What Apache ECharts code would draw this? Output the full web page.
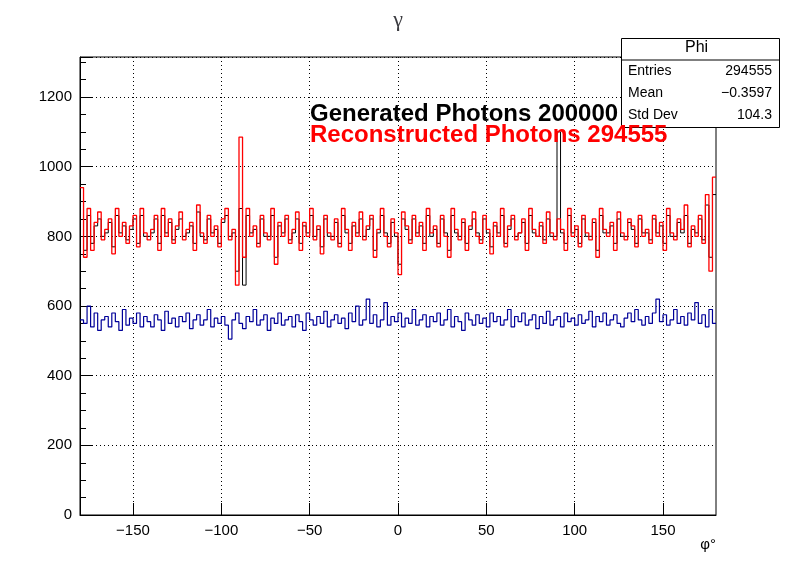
<!DOCTYPE html>
<html><head><meta charset="utf-8">
<script src="https://cdn.jsdelivr.net/npm/echarts@6/dist/echarts.min.js"></script>
<style>body{margin:0;background:#fff}#c{width:796px;height:572px}</style>
</head><body><div id="c"></div>
<script>
// 2 degree bins from -180 to 180
var binLow = -180, binWidth = 2;
var xTicks = [-150, -100, -50, 0, 50, 100, 150];
var reco = [
940,740,880,760,840,870,790,820,850,750,880,800,840,780,830,860,770,880,810,790,
820,860,760,880,800,850,780,830,870,790,820,840,760,890,810,780,860,800,830,770,
850,880,790,820,660,1085,740,880,800,830,770,860,810,790,880,720,840,800,860,780,
820,870,760,840,800,880,790,830,750,860,810,790,850,770,880,820,760,840,800,870,
790,830,860,740,820,880,800,770,850,810,690,870,830,780,860,800,840,760,880,810,
830,770,860,800,740,880,820,790,850,760,830,870,800,780,860,820,750,840,800,880,
770,830,860,790,810,850,760,880,820,800,840,780,870,810,790,850,820,760,880,800,
830,770,860,810,790,850,740,880,820,800,840,760,870,810,790,850,830,770,860,800,
820,780,860,800,840,760,880,810,790,850,820,890,770,830,800,860,780,920,700,970
];
var gen = [
900,760,860,780,830,850,800,810,840,770,860,810,830,790,820,850,780,860,800,800,
810,850,780,860,810,840,790,820,850,800,810,830,780,870,800,790,850,810,820,780,
840,860,800,810,700,880,660,860,810,820,780,850,800,800,860,740,830,810,850,790,
810,850,780,830,810,860,800,820,770,850,800,800,840,780,860,810,780,830,810,850,
800,820,850,760,810,860,810,780,840,800,720,850,820,790,850,810,830,780,860,800,
820,780,850,810,760,860,810,800,840,780,820,850,810,790,850,810,770,830,810,860,
780,820,850,800,810,840,780,860,810,800,830,790,850,800,800,1100,810,780,860,810,
820,780,850,800,800,840,760,860,810,810,830,780,850,800,800,840,820,780,850,810,
810,790,850,810,830,780,860,800,800,840,810,860,780,820,810,850,790,890,740,920
];
var phot = [
560,550,600,540,580,530,560,570,540,580,555,530,590,545,565,550,580,540,570,555,
540,575,560,530,585,550,565,540,570,555,580,535,560,575,545,560,590,540,565,550,
570,545,505,560,580,550,535,570,555,590,545,560,575,530,565,550,580,545,560,570,
540,575,555,530,580,560,545,570,550,585,540,560,575,550,565,535,580,555,600,545,
560,620,550,575,540,560,610,545,570,555,580,540,565,550,590,545,560,575,540,570,
555,580,545,560,590,540,570,555,530,580,560,545,575,550,565,540,580,555,570,545,
560,590,540,570,555,580,545,560,575,535,570,550,585,545,560,570,540,580,555,565,
545,575,550,560,585,540,570,555,580,545,560,575,550,540,565,580,555,590,560,545,
570,550,580,620,555,575,545,560,590,550,570,545,580,560,610,550,575,540,590,550
];

function toSteps(arr) {
    var out = [];
    for (var i = 0; i < arr.length; i++) {
        out.push([binLow + i * binWidth, arr[i]]);
        out.push([binLow + (i + 1) * binWidth, arr[i]]);
    }
    return out;
}
function minus(v) { return v < 0 ? '\u2212' + (-v) : String(v); }

var chart = echarts.init(document.getElementById('c'));
var dotted = {show: true, lineStyle: {color: '#000', type: [1, 3], width: 1}};
var option = {
    animation: false,
    textStyle: {fontFamily: 'Liberation Sans'},
    grid: {left: 80, right: 80, top: 57, bottom: 57, show: true, borderColor: '#000', borderWidth: 1},
    title: {text: 'γ', left: 'center', top: 4, textStyle: {fontSize: 22, fontWeight: 'normal', fontFamily: 'Liberation Serif'}},
    xAxis: {
        type: 'value', min: -180, max: 180, interval: 50,
        axisLine: {onZero: false, lineStyle: {color: '#000'}},
        axisTick: {inside: true, length: 12, lineStyle: {color: '#000'}, customValues: xTicks},
        minorTick: {show: false},
        axisLabel: {color: '#000', fontSize: 15, formatter: minus, customValues: xTicks},
        splitLine: dotted,
        name: 'φ°', nameLocation: 'end', nameGap: 0,
        nameTextStyle: {fontSize: 15, color: '#000', align: 'right', verticalAlign: 'top', padding: [22, 0, 0, 0]}
    },
    yAxis: {
        type: 'value', min: 0, max: 1315, interval: 200,
        axisLine: {show: true, onZero: false, lineStyle: {color: '#000'}},
        axisTick: {inside: true, length: 12, lineStyle: {color: '#000'}},
        minorTick: {show: true, splitNumber: 4, length: 6, lineStyle: {color: '#000'}},
        axisLabel: {color: '#000', fontSize: 15, showMaxLabel: false, formatter: function (v) { return String(v); }},
        splitLine: dotted
    },
    series: [
        {name: 'Generated', type: 'line', data: toSteps(gen), symbol: 'none', lineStyle: {color: '#000', width: 1}, z: 2},
        {name: 'Reconstructed', type: 'line', data: toSteps(reco), symbol: 'none', lineStyle: {color: '#ff0000', width: 1.3}, z: 3},
        {name: 'Photons', type: 'line', data: toSteps(phot), symbol: 'none', lineStyle: {color: '#000099', width: 1.2}, z: 3}
    ],
    graphic: [
        {type: 'rect', left: 621, top: 38, shape: {width: 158, height: 89}, style: {fill: '#fff', stroke: '#000', lineWidth: 1}, z: 10},
        {type: 'line', shape: {x1: 621, y1: 60, x2: 779, y2: 60}, style: {stroke: '#000'}, z: 11},
        {type: 'text', left: 685, top: 40, style: {text: 'Phi', fontSize: 16, fill: '#000', fontFamily: 'Liberation Sans'}, z: 11},
        {type: 'text', left: 628, top: 64, style: {text: 'Entries', fontSize: 14, fill: '#000', fontFamily: 'Liberation Sans'}, z: 11},
        {type: 'text', right: 24, top: 64, style: {text: '294555', fontSize: 14, fill: '#000', fontFamily: 'Liberation Sans'}, z: 11},
        {type: 'text', left: 628, top: 86, style: {text: 'Mean', fontSize: 14, fill: '#000', fontFamily: 'Liberation Sans'}, z: 11},
        {type: 'text', right: 24, top: 86, style: {text: '\u22120.3597', fontSize: 14, fill: '#000', fontFamily: 'Liberation Sans'}, z: 11},
        {type: 'text', left: 628, top: 108, style: {text: 'Std Dev', fontSize: 14, fill: '#000', fontFamily: 'Liberation Sans'}, z: 11},
        {type: 'text', right: 24, top: 108, style: {text: '104.3', fontSize: 14, fill: '#000', fontFamily: 'Liberation Sans'}, z: 11},
        {type: 'text', left: 310, top: 102, style: {text: 'Generated Photons 200000', fontSize: 24, fontWeight: 'bold', fill: '#000', fontFamily: 'Liberation Sans'}, z: 12},
        {type: 'text', left: 310, top: 123, style: {text: 'Reconstructed Photons 294555', fontSize: 24, fontWeight: 'bold', fill: '#ff0000', fontFamily: 'Liberation Sans'}, z: 12}
    ]
};
chart.setOption(option);
</script>
</body></html>
